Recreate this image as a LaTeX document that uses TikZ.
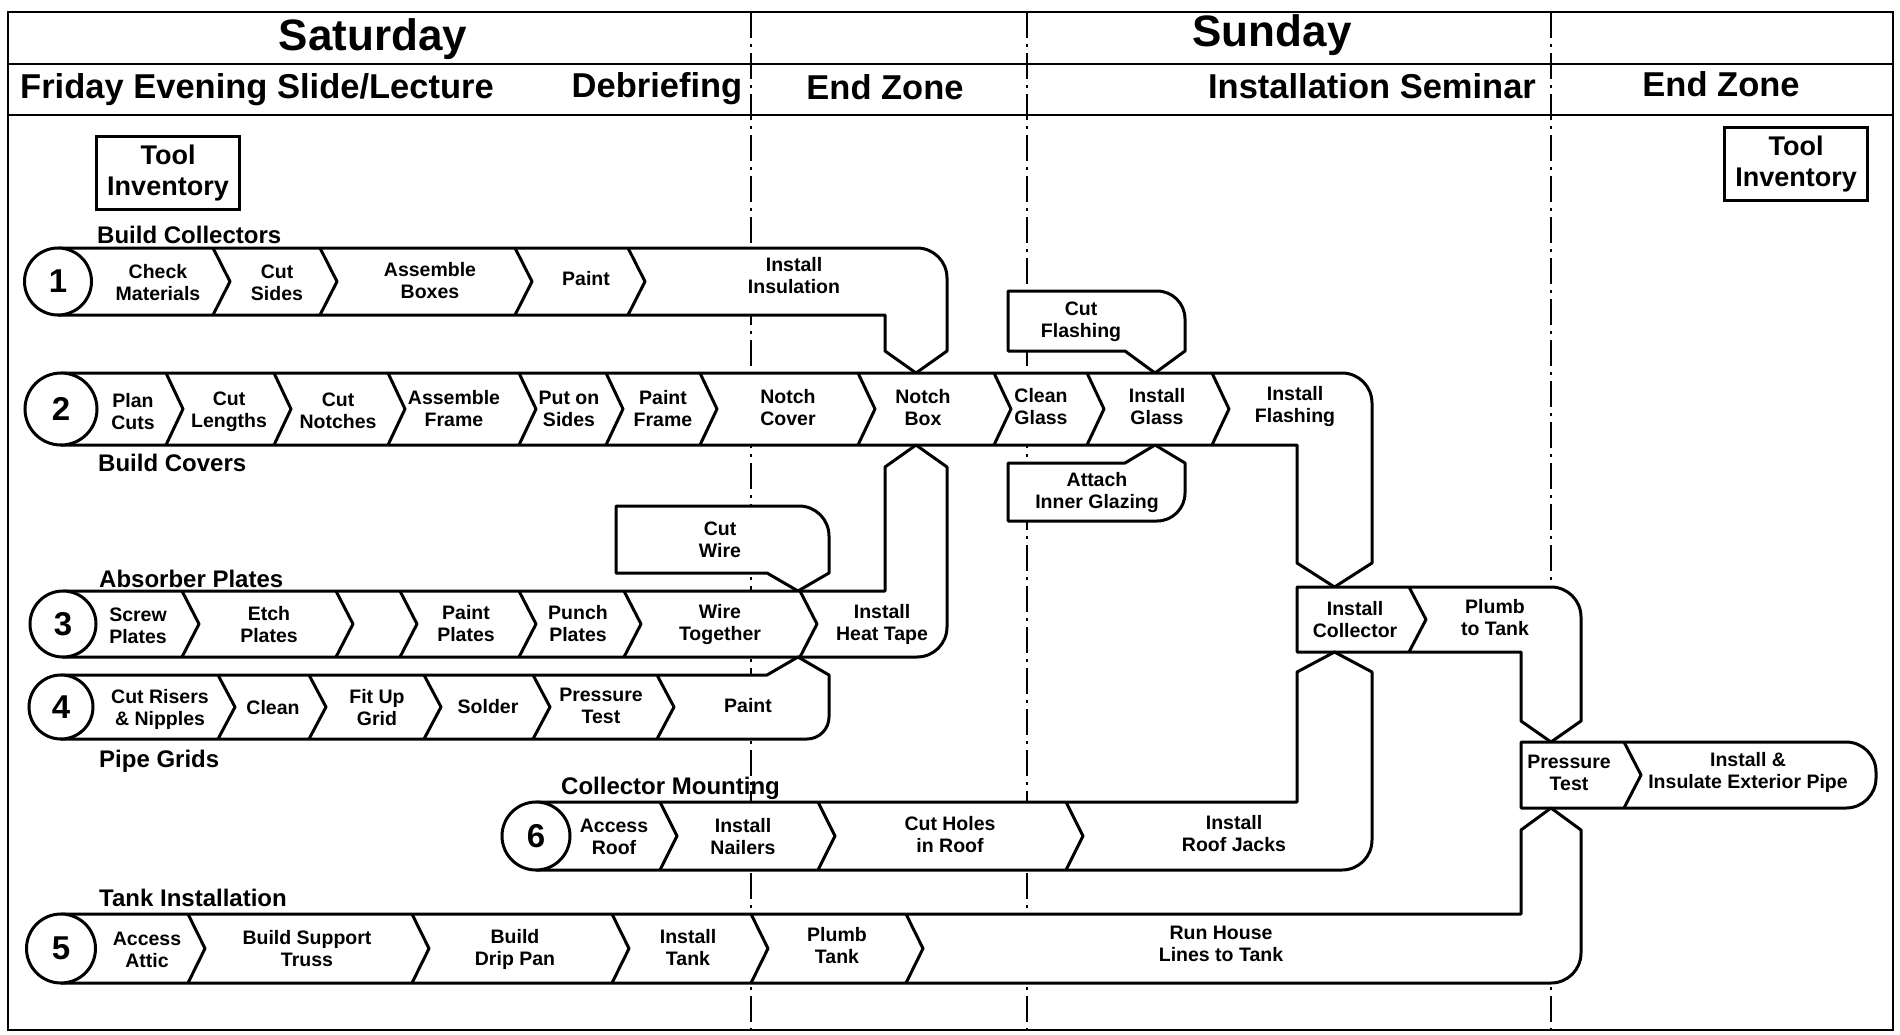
\documentclass[tikz,border=0pt]{standalone}
\usepackage{fontspec}
\setmainfont{Liberation Sans}
\usetikzlibrary{positioning}
\tikzset{
  band/.style={draw, fill=white, line width=3pt, line join=round},
  chev/.style={line width=3pt, line join=round},
  endcap/.style={circle, draw, fill=white, line width=3pt, inner sep=0pt,
    font=\fontsize{33}{33}\selectfont\bfseries},
  steptext/.style={align=center, inner sep=0pt,
    font=\fontsize{19.5}{22}\selectfont\bfseries},
  grouplabel/.style={anchor=west, inner sep=0pt,
    font=\fontsize{24}{26}\selectfont\bfseries},
  daylabel/.style={inner sep=0pt, font=\fontsize{44}{44}\selectfont\bfseries},
  zonelabel/.style={inner sep=0pt, font=\fontsize{34.5}{34.5}\selectfont\bfseries},
  toolbox/.style={draw, line width=2.8pt, align=center, inner sep=0pt,
    minimum width=143pt, minimum height=73pt,
    font=\fontsize{27}{31}\selectfont\bfseries},
  divider/.style={line width=2.2pt, dash pattern=on 26pt off 6pt on 3pt off 6pt},
  frameline/.style={line width=2.8pt}
}
\begin{document}
\begin{tikzpicture}[x=1pt, y=-1pt]
  \useasboundingbox (0,0) rectangle (1900,1034);
  % frame and header
  \draw[frameline] (8,12) rectangle (1893,1030);
  \draw[frameline] (8,64) -- (1893,64);
  \draw[frameline] (8,115) -- (1893,115);
  \foreach \x in {751,1027,1551}
    \draw[divider] (\x,12) -- (\x,1030);
  \node[daylabel] (sat) at (373,39) {Saturday};
  \node[daylabel] (sun) at (1272,35) {Sunday};
  \node[zonelabel] (fri) at (257,90) {Friday Evening Slide/Lecture};
  \node[zonelabel] (debrief) at (657,89) {Debriefing};
  \node[zonelabel] (endzA) at (885,87) {End Zone};
  \node[zonelabel] (seminar) at (1372,86) {Installation Seminar};
  \node[zonelabel] (endzB) at (1721,84) {End Zone};
  \node[toolbox] (toolA) at (168,173) {Tool\\Inventory};
  \node[toolbox] (toolB) at (1796,164) {Tool\\Inventory};

  % side boxes
  \draw[band] (1008,291) -- (1157,291) .. controls (1172.5,291) and (1185,303.5) .. (1185,319)
    -- (1185,351) -- (1155,373) -- (1125,351) -- (1008,351) -- cycle;
  \draw[band] (1008,463) -- (1125,463) -- (1155,445) -- (1185,463)
    -- (1185,493) .. controls (1185,508.5) and (1172.5,521) .. (1157,521) -- (1008,521) -- cycle;
  \draw[band] (616,506) -- (799,506) .. controls (815.6,506) and (829,519.4) .. (829,536)
    -- (829,573) -- (798,591) -- (767,573) -- (616,573) -- cycle;
  \node[steptext] (cutflash) at (1081,322) {Cut\\Flashing};
  \node[steptext] (attach) at (1097,492) {Attach\\Inner Glazing};
  \node[steptext] (cutwire) at (720,540) {Cut\\Wire};

  % row 1: build collectors
  \draw[band] (58,248) -- (917,248) .. controls (933.6,248) and (947,261.4) .. (947,278)
    -- (947,351) -- (916,373) -- (885,351) -- (885,315) -- (58,315) -- cycle;
  \foreach \x in {213,320,515,628}
    \draw[chev] (\x,248) -- (\x+17,281.5) -- (\x,315);
  \node[endcap, minimum size=67pt] (num1) at (58,281.5) {1};

  % row 2: build covers
  \draw[band] (61,373) -- (1342,373) .. controls (1358.6,373) and (1372,386.4) .. (1372,403)
    -- (1372,563) -- (1334.5,587) -- (1297,563) -- (1297,445) -- (61,445) -- cycle;
  \foreach \x in {166,274,388,519,606,700,858,994,1087,1212}
    \draw[chev] (\x,373) -- (\x+17,409) -- (\x,445);
  \node[endcap, minimum size=72pt] (num2) at (61,409) {2};

  % row 3: absorber plates
  \draw[band] (63,591) -- (885,591) -- (885,467) -- (916,445) -- (947,467)
    -- (947,627) .. controls (947,643.6) and (933.6,657) .. (917,657) -- (63,657) -- cycle;
  \foreach \x in {182,336,400,519,624,800}
    \draw[chev] (\x,591) -- (\x+17,624) -- (\x,657);
  \node[endcap, minimum size=66pt] (num3) at (63,624) {3};

  % row 4: pipe grids
  \draw[band] (61,675) -- (767,675) -- (798,657) -- (829,675)
    -- (829,717) .. controls (829,729.1) and (819.1,739) .. (807,739) -- (61,739) -- cycle;
  \foreach \x in {218,309,424,533,657}
    \draw[chev] (\x,675) -- (\x+17,707) -- (\x,739);
  \node[endcap, minimum size=64pt] (num4) at (61,707) {4};

  % install collector and pressure test
  \draw[band] (1297,587) -- (1551,587) .. controls (1567.6,587) and (1581,600.4) .. (1581,617)
    -- (1581,721) -- (1551,742) -- (1521,721) -- (1521,652) -- (1297,652) -- cycle;
  \draw[chev] (1409,587) -- (1426,619.5) -- (1409,652);
  \draw[band] (1521,742) -- (1846,742) .. controls (1862.6,742) and (1876,755.4) .. (1876,772)
    -- (1876,778) .. controls (1876,794.6) and (1862.6,808) .. (1846,808) -- (1521,808) -- cycle;
  \draw[chev] (1624,742) -- (1641,775) -- (1624,808);

  % row 6: collector mounting
  \draw[band] (536,802) -- (1297,802) -- (1297,672) -- (1334.5,652) -- (1372,672)
    -- (1372,840) .. controls (1372,856.6) and (1358.6,870) .. (1342,870) -- (536,870) -- cycle;
  \foreach \x in {660,818,1066}
    \draw[chev] (\x,802) -- (\x+17,836) -- (\x,870);
  \node[endcap, minimum size=68pt] (num6) at (536,836) {6};

  % row 5: tank installation
  \draw[band] (61,914) -- (1521,914) -- (1521,830) -- (1551,808) -- (1581,830)
    -- (1581,953) .. controls (1581,969.6) and (1567.6,983) .. (1551,983) -- (61,983) -- cycle;
  \foreach \x in {188,412,612,751,906}
    \draw[chev] (\x,914) -- (\x+17,948.5) -- (\x,983);
  \node[endcap, minimum size=69pt] (num5) at (61,948.5) {5};

  % group labels
  \node[grouplabel] (gcoll) at (97,235) {Build Collectors};
  \node[grouplabel] (gcov) at (98,463) {Build Covers};
  \node[grouplabel] (gabs) at (99,579) {Absorber Plates};
  \node[grouplabel] (gpipe) at (99,761) {Pipe Grids};
  \node[grouplabel] (gmount) at (561,788) {Collector Mounting};
  \node[grouplabel] (gtank) at (99,898) {Tank Installation};

  % step texts
  \node[steptext] (s1a) at (158,283) {Check\\Materials};
  \node[steptext] (s1b) at (277,283) {Cut\\Sides};
  \node[steptext] (s1c) at (430,281) {Assemble\\Boxes};
  \node[steptext] (s1d) at (586,279) {Paint};
  \node[steptext] (s1e) at (794,276) {Install\\Insulation};

  \node[steptext] (s2a) at (133,412) {Plan\\Cuts};
  \node[steptext] (s2b) at (229,412) {Cut\\Lengths};
  \node[steptext] (s2c) at (338,411) {Cut\\Notches};
  \node[steptext] (s2d) at (454,409) {Assemble\\Frame};
  \node[steptext] (s2e) at (569,409) {Put on\\Sides};
  \node[steptext] (s2f) at (663,409) {Paint\\Frame};
  \node[steptext] (s2g) at (788,408) {Notch\\Cover};
  \node[steptext] (s2h) at (923,408) {Notch\\Box};
  \node[steptext] (s2i) at (1041,407) {Clean\\Glass};
  \node[steptext] (s2j) at (1157,407) {Install\\Glass};
  \node[steptext] (s2k) at (1295,406) {Install\\Flashing};

  \node[steptext] (s3a) at (138,626) {Screw\\Plates};
  \node[steptext] (s3b) at (269,625) {Etch\\Plates};
  \node[steptext] (s3c) at (466,624) {Paint\\Plates};
  \node[steptext] (s3d) at (578,624) {Punch\\Plates};
  \node[steptext] (s3e) at (720,624) {Wire\\Together};
  \node[steptext] (s3f) at (882,624) {Install\\Heat Tape};

  \node[steptext] (s4a) at (160,709) {Cut Risers\\\& Nipples};
  \node[steptext] (s4b) at (273,708) {Clean};
  \node[steptext] (s4c) at (377,708) {Fit Up\\Grid};
  \node[steptext] (s4d) at (488,707) {Solder};
  \node[steptext] (s4e) at (601,706) {Pressure\\Test};
  \node[steptext] (s4f) at (748,706) {Paint};

  \node[steptext] (s6a) at (614,837) {Access\\Roof};
  \node[steptext] (s6b) at (743,837) {Install\\Nailers};
  \node[steptext] (s6c) at (950,835) {Cut Holes\\in Roof};
  \node[steptext] (s6d) at (1234,834) {Install\\Roof Jacks};

  \node[steptext] (s7a) at (1355,620) {Install\\Collector};
  \node[steptext] (s7b) at (1495,618) {Plumb\\to Tank};
  \node[steptext] (s8a) at (1569,773) {Pressure\\Test};
  \node[steptext] (s8b) at (1748,772) {Install \&\\Insulate Exterior Pipe};

  \node[steptext] (s5a) at (147,950) {Access\\Attic};
  \node[steptext] (s5b) at (307,949) {Build Support\\Truss};
  \node[steptext] (s5c) at (515,949) {Build\\Drip Pan};
  \node[steptext] (s5d) at (688,948) {Install\\Tank};
  \node[steptext] (s5e) at (837,946) {Plumb\\Tank};
  \node[steptext] (s5f) at (1221,944) {Run House\\Lines to Tank};
\end{tikzpicture}
\end{document}
